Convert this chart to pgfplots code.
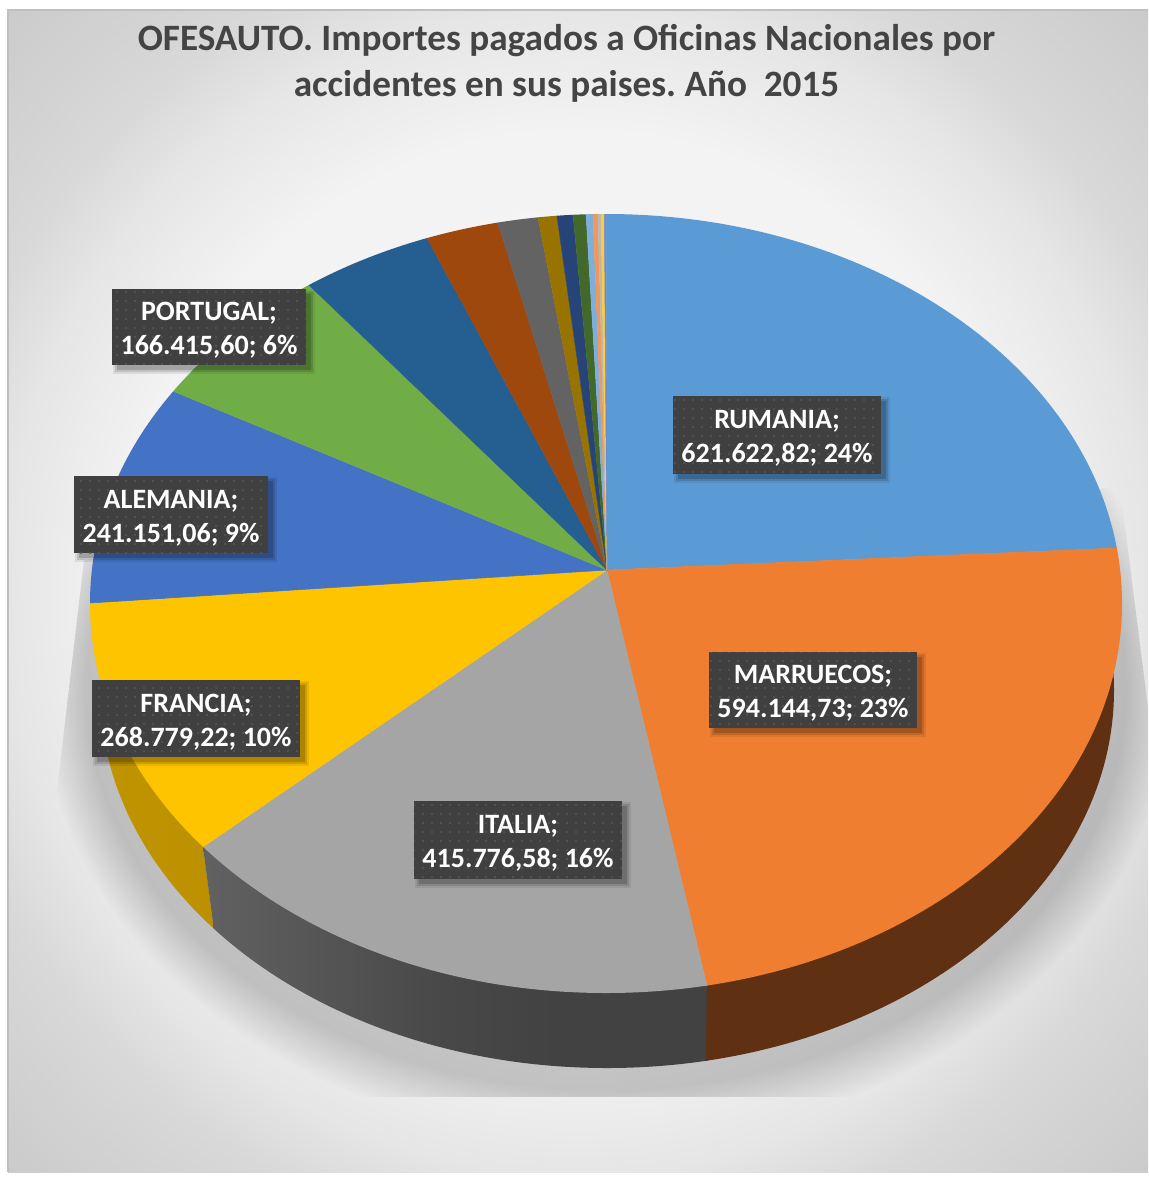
\documentclass[border=0pt]{standalone}
\usepackage{fontspec}
\setmainfont{Carlito}
\usepackage{pgfplots}
\pgfplotsset{compat=1.18}
\usetikzlibrary{patterns.meta}
\frenchspacing
\definecolor{bgA}{HTML}{F6F6F6}\definecolor{bgB}{HTML}{F3F3F3}\definecolor{bgC}{HTML}{E6E6E6}\definecolor{bgE}{HTML}{D8D8D8}\definecolor{bgD}{HTML}{C2C2C2}
\pgfdeclareradialshading{chartbg}{\pgfpoint{0bp}{0bp}}{color(0bp)=(bgA);color(19.75bp)=(bgB);color(25bp)=(bgC);color(28.5bp)=(bgE);color(40bp)=(bgD);color(100bp)=(bgD)}
\definecolor{gA}{HTML}{787878}\definecolor{gL}{HTML}{727272}\definecolor{gM}{HTML}{5C5C5C}\definecolor{gN}{HTML}{484848}\definecolor{gB}{HTML}{424242}
\definecolor{yA}{HTML}{C99B00}\definecolor{yB}{HTML}{B48900}
\definecolor{sideBrown}{HTML}{5F3112}\definecolor{titleGrey}{HTML}{444444}\definecolor{dotGrey}{HTML}{565656}
\definecolor{c1}{HTML}{5B9BD5}\definecolor{c2}{HTML}{F07E30}\definecolor{c3}{HTML}{A5A5A5}\definecolor{c4}{HTML}{FFC400}
\definecolor{c5}{HTML}{4472C4}\definecolor{c6}{HTML}{70AD47}\definecolor{c7}{HTML}{255E91}\definecolor{c8}{HTML}{9E480E}
\definecolor{c9}{HTML}{636363}\definecolor{c10}{HTML}{997300}\definecolor{c11}{HTML}{264478}\definecolor{c12}{HTML}{43682B}
\definecolor{c13}{HTML}{7CAFDD}\definecolor{c14}{HTML}{F1975A}\definecolor{c15}{HTML}{B7B7B7}\definecolor{c16}{HTML}{FFCD33}\definecolor{c17}{HTML}{698ED0}
\pgfdeclarehorizontalshading{greyside}{100bp}{color(0bp)=(gA);color(10bp)=(gL);color(30bp)=(gM);color(49bp)=(gN);color(60bp)=(gB);color(100bp)=(gB)}
\pgfdeclarehorizontalshading{goldside}{100bp}{color(0bp)=(yA);color(100bp)=(yB)}
\newcommand{\slice}[2]{\addplot[fill=#1,draw=#1,line width=0.25pt] coordinates {#2};}
\newcommand{\lab}[5]{%
  \node[fill=black,opacity=.08,minimum width=#3pt+4pt,minimum height=#4pt+4pt,inner sep=0pt,xshift=2.4pt,yshift=-2.4pt] at (axis cs:#1,#2) {};
  \node[fill=black,opacity=.12,minimum width=#3pt+2pt,minimum height=#4pt+2pt,inner sep=0pt,xshift=2.4pt,yshift=-2.4pt] at (axis cs:#1,#2) {};
  \node[fill=black,opacity=.16,minimum width=#3pt,minimum height=#4pt,inner sep=0pt,xshift=2.4pt,yshift=-2.4pt] at (axis cs:#1,#2) {};
  \node[fill=black!75,minimum width=#3pt,minimum height=#4pt,inner sep=0pt,postaction={pattern={Dots[distance=4.5pt,radius=.6pt]},pattern color=dotGrey}] at (axis cs:#1,#2) {};
  \node[text=white,font=\fontsize{14}{17}\selectfont\bfseries,align=center,inner sep=0pt,yshift=-1.7pt] at (axis cs:#1,#2) {#5};}
\begin{document}
\begin{tikzpicture}
\begin{axis}[scale only axis,width=574pt,height=591.5pt,xmin=0,xmax=1148,ymin=0,ymax=1183,y dir=reverse,hide axis,clip=true]
\coordinate (TL) at (axis cs:0,0);
\coordinate (BR) at (axis cs:1148,1183);
% page and gradient background
\fill[white] (axis cs:0,0) rectangle (axis cs:1148,1183);
\shade[shading=chartbg] (axis cs:8,10) rectangle (axis cs:1148,1172);
\draw[black!25,line width=.6pt] (axis cs:8,1172) -- (axis cs:8,10) -- (axis cs:1148,10);
% soft shadow under the pie, cut off by its box
\begin{scope}
\clip (axis cs:84,560) -- (axis cs:57,790) -- (axis cs:57,1097) -- (axis cs:1148,1097) -- (axis cs:1148,707) -- (axis cs:1120,487) -- cycle;
\pgfplotsinvokeforeach{0,1,...,22}{
  \fill[black,opacity=.009] (axis cs:606,690) ellipse [x radius=282.5pt-#1pt,y radius=225.5pt-1.13*#1pt];
}
\end{scope}
% side faces (bottom rim)
\begin{scope}
\clip (axis cs:607,690) ellipse [x radius=253.5pt,y radius=189pt];
\addplot[shading=goldside,draw=none] coordinates {(0,500)(0,1100)(213,1100)(213,923)(203,847)(300,600)};
\addplot[shading=greyside,draw=none] coordinates {(203,847)(213,923)(213,1100)(708,1100)(708,986)};
\addplot[fill=sideBrown,draw=none] coordinates {(707,986)(706,1060)(706,1100)(1148,1100)(1148,500)};
\end{scope}
% top faces
\begin{scope}
\clip (axis cs:606,603.5) ellipse [x radius=258pt,y radius=194.75pt];
\slice{c1}{(607,570)(606.5,200)(1140,200)(1140,547)}
\slice{c2}{(607,570)(1140,547)(1140,1000)(710.4,1000)}
\slice{c3}{(607,570)(710.4,1000)(150,1000)(150,883.3)}
\slice{c4}{(607,570)(150,883.3)(70,883.3)(70,604.3)}
\slice{c5}{(607,570)(70,604.3)(70,348.7)}
\slice{c6}{(607,570)(70,348.7)(70,200)(220,200)}
\slice{c7}{(607,570)(220,200)(406.4,200)}
\slice{c8}{(607,570)(406.4,200)(490.8,200)}
\slice{c9}{(607,570)(490.8,200)(534.5,200)}
\slice{c10}{(607,570)(534.5,200)(554.7,200)}
\slice{c11}{(607,570)(554.7,200)(571.6,200)}
\slice{c12}{(607,570)(571.6,200)(585.2,200)}
\slice{c13}{(607,570)(585.2,200)(592.4,200)}
\slice{c14}{(607,570)(592.4,200)(597.6,200)}
\slice{c15}{(607,570)(597.6,200)(600.8,200)}
\slice{c16}{(607,570)(600.8,200)(604.2,200)}
\slice{c17}{(607,570)(604.2,200)(606.5,200)}
\end{scope}
% title
\node[text=titleGrey,font=\fontsize{18.6}{23}\selectfont\bfseries,align=center,inner sep=0pt] at (axis cs:566.5,63) {OFESAUTO. Importes pagados a Oficinas Nacionales por\\accidentes en sus paises. Año~~2015};
% data labels
\lab{777}{435}{104}{39}{RUMANIA;\\621.622,82; 24\%}
\lab{813}{690}{104}{38}{MARRUECOS;\\594.144,73; 23\%}
\lab{518}{840}{104}{39}{ITALIA;\\415.776,58; 16\%}
\lab{196}{718.5}{104}{38.5}{FRANCIA;\\268.779,22; 10\%}
\lab{171}{514.5}{97}{38.5}{ALEMANIA;\\241.151,06; 9\%}
\lab{209}{327}{97}{38}{PORTUGAL;\\166.415,60; 6\%}
\end{axis}
\pgfresetboundingbox
\path[use as bounding box] (TL) rectangle (BR);
\end{tikzpicture}
\end{document}
